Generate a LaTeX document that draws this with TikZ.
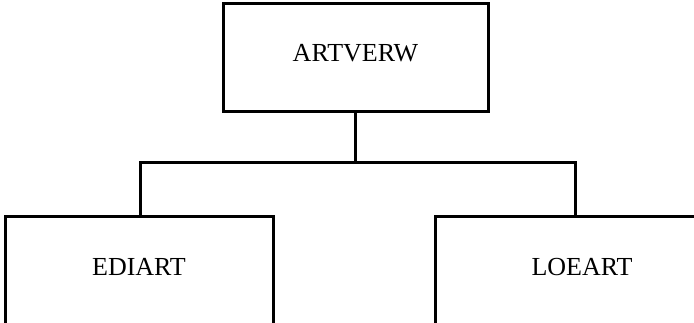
\documentclass[tikz,border=0pt]{standalone}
\usepackage{fontspec}
\setmainfont{Liberation Serif}
\usetikzlibrary{positioning}

\tikzset{
  unitbox/.style={draw,line width=3pt,rectangle,inner sep=0pt,
    font=\fontsize{26}{31}\selectfont,text height=17pt,text depth=9pt},
  link/.style={line width=3pt,line join=miter}
}

\begin{document}
\begin{tikzpicture}[x=1pt,y=-1pt]
\useasboundingbox (0,0) rectangle (694,323);
\clip (0,0) rectangle (694,323);
\node[unitbox,minimum width=265pt,minimum height=108pt] (artverw) at (355.5,58) {ARTVERW};
\node[unitbox,minimum width=268pt,minimum height=109pt] (ediart) at (139,271.5) {EDIART};
\node[unitbox,minimum width=294pt,minimum height=109pt] (loeart) at (582,271.5) {LOEART};
\coordinate (bus) at (355.5,163);
\draw[link] (artverw.south) -- (bus);
\draw[link] ([xshift=1pt]ediart.north) |- (bus) -| ([xshift=-7pt]loeart.north);
\end{tikzpicture}
\end{document}
